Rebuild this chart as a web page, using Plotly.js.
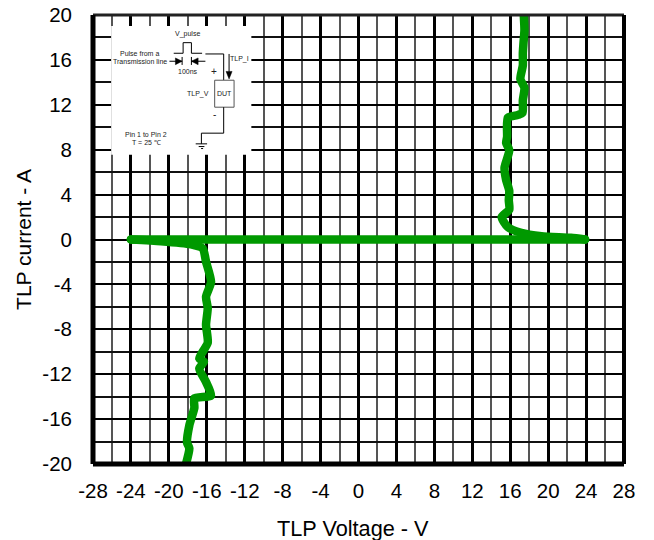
<!DOCTYPE html>
<html><head><meta charset="utf-8">
<script src="https://cdn.plot.ly/plotly-3.0.1.min.js"></script>
<style>html,body{margin:0;padding:0;background:#fff}
.js-line{stroke-linecap:round;stroke-linejoin:round}</style></head>
<body><div id="chart" style="width:654px;height:540px"></div>
<script>
const posV=[17.43,17.5,17.4,17.33,17.33,17.07,17.5,17.33,17.3,16.83,15.75,15.67,15.57,15.9,15.4,15.57,15.9,15.85,15.9,15.1,15.75,17.16,19.3,22.4,23.9];
const posI=[20,18.66,17.5,16.6,15.5,14.3,13.5,12.4,11.3,11.1,10.85,9.15,8.6,7.95,6.4,5.3,4.35,3.5,2.65,2.0,1.1,0.6,0.3,0.15,0];
const zeroV=[23.9,-24];
const zeroI=[0,0];
const negV=[-24,-20.83,-17.66,-16.43,-16.08,-15.55,-16.08,-15.9,-16.08,-15.9,-16.79,-16.3,-16.79,-16.08,-15.55,-17.31,-17.31,-17.84,-18.08,-17.84,-18.2];
const negI=[0,-0.15,-0.43,-0.79,-1.98,-3.77,-5.1,-6.1,-7.6,-9.2,-10.6,-10.9,-11.5,-12.7,-13.9,-14.15,-15.0,-16.55,-18.1,-18.6,-20];
const xTicks=[-28,-24,-20,-16,-12,-8,-4,0,4,8,12,16,20,24,28];
const yTicks=[-20,-16,-12,-8,-4,0,4,8,12,16,20];

const W=654,H=540,L=92.5,R=624,T=15,B=464.5;
const px=x=>(x-L)/(R-L), py=y=>1-(y-T)/(B-T);
const GREEN='#009900';
const mk=(x,y)=>({x,y,mode:'lines',type:'scatter',hoverinfo:'skip',showlegend:false,
  line:{color:GREEN,width:8.5,shape:'spline',smoothing:0.6,simplify:false},cliponaxis:true});
const traces=[mk(posV,posI),mk(zeroV,zeroI),mk(negV,negI)];

const polyline=(pts,w)=>({type:'path',xref:'paper',yref:'paper',layer:'above',
  path:'M'+pts.map(p=>px(p[0])+' '+py(p[1])).join(' L'),line:{color:'#000',width:w||1}});
const tri=(pts)=>({type:'path',xref:'paper',yref:'paper',layer:'above',
  path:'M'+pts.map(p=>px(p[0])+' '+py(p[1])).join(' L')+' Z',fillcolor:'#000',line:{color:'#000',width:0.5}});
const border=(x0,y0,x1,y1,color,width)=>({type:'line',xref:'paper',yref:'paper',layer:'above',x0,x1,y0,y1,line:{color,width}});
const shapes=[
 {type:'rect',xref:'paper',yref:'paper',layer:'above',x0:px(110.7),x1:px(251),y0:py(155),y1:py(26),fillcolor:'#fff',line:{width:0}},
 polyline([[173.3,53.3],[182.7,53.3],[182.7,42.7],[191,42.7],[191,53.3],[201.7,53.3]]),
 polyline([[205,54],[223.3,54],[223.3,80.3]]),
 {type:'rect',xref:'paper',yref:'paper',layer:'above',x0:px(214.3),x1:px(233.7),y0:py(107.3),y1:py(80.3),fillcolor:'#fff',line:{color:'#555',width:1}},
 polyline([[223.3,107.3],[223.3,133.3],[201,133.3],[201,144]]),
 polyline([[195.3,144],[206.7,144]]),
 polyline([[198.3,146.7],[204,146.7]]),
 polyline([[200.7,148.7],[202.7,148.7]]),
 polyline([[228.7,54],[228.7,72]]),
 tri([[225.7,71.5],[231.7,71.5],[228.7,79]]),
 polyline([[169,61.3],[181.7,61.3]]),
 polyline([[181.7,57],[181.7,65]]),
 tri([[175,58],[181.7,61.3],[175,64.7]]),
 polyline([[191,61.3],[205,61.3]]),
 polyline([[191,57],[191,65]]),
 tri([[197.7,58],[191,61.3],[197.7,64.7]]),
 border(0,1,1,1,'#222',3),
 border(1,0,1,1,'#000',4),
 border(0,0,0,1,'#000',5),
 border(0,0,1,0,'#000',5)
];
const note=(x,y,text,size)=>({xref:'paper',yref:'paper',x:px(x),y:py(y),text,showarrow:false,
  xanchor:'center',yanchor:'middle',font:{family:'Liberation Sans, Arial, sans-serif',size:size||7,color:'#222'}});
const annotations=[
 note(187.3,34.3,'V_pulse'),note(139.3,53.7,'Pulse from a'),note(139.3,61.7,'Transmission line'),
 note(187.3,72,'100ns'),note(238.7,59.3,'TLP_I'),note(214,72,'+',10),note(214.3,114.7,'-',10),
 note(197.7,94.3,'TLP_V'),note(223.8,94,'DUT'),note(146,134.3,'Pin 1 to Pin 2'),note(146,142.3,'T = 25 ℃'),
 {xref:'paper',yref:'paper',x:px(352.5),y:py(529),text:'TLP Voltage - V',showarrow:false,xanchor:'center',yanchor:'middle',
  font:{family:'Liberation Sans, Arial, sans-serif',size:21.7,color:'#000'}}
];
const axisFont={family:'Liberation Sans, Arial, sans-serif',size:20.5,color:'#000'};
const layout={
 width:W,height:H,paper_bgcolor:'#fff',plot_bgcolor:'#fff',showlegend:false,
 margin:{l:L,r:W-R,t:T,b:H-B,pad:0},
 font:axisFont,
 xaxis:{range:[-28,28],tickmode:'array',tickvals:xTicks,ticktext:xTicks.map(String),
   showgrid:true,gridcolor:'#000',gridwidth:2.5,zeroline:false,showline:false,ticks:'',ticklen:0,ticklabelstandoff:12,
   minor:{dtick:2,showgrid:true,gridcolor:'#555',gridwidth:1.6,ticks:''},
   tickfont:axisFont,tickangle:0,automargin:false},
 yaxis:{range:[-20,20],tickmode:'array',tickvals:yTicks,ticktext:yTicks.map(String),
   showgrid:true,gridcolor:'#000',gridwidth:2.2,zeroline:false,showline:false,ticks:'',ticklen:0,ticklabelstandoff:20,
   minor:{dtick:2,showgrid:true,gridcolor:'#111',gridwidth:1.8,ticks:''},
   tickfont:axisFont,automargin:false,
   title:{text:'TLP current - A',font:{...axisFont,size:21},standoff:5}},
 shapes,annotations
};
Plotly.newPlot('chart',traces,layout,{displayModeBar:false,responsive:false});
</script></body></html>
